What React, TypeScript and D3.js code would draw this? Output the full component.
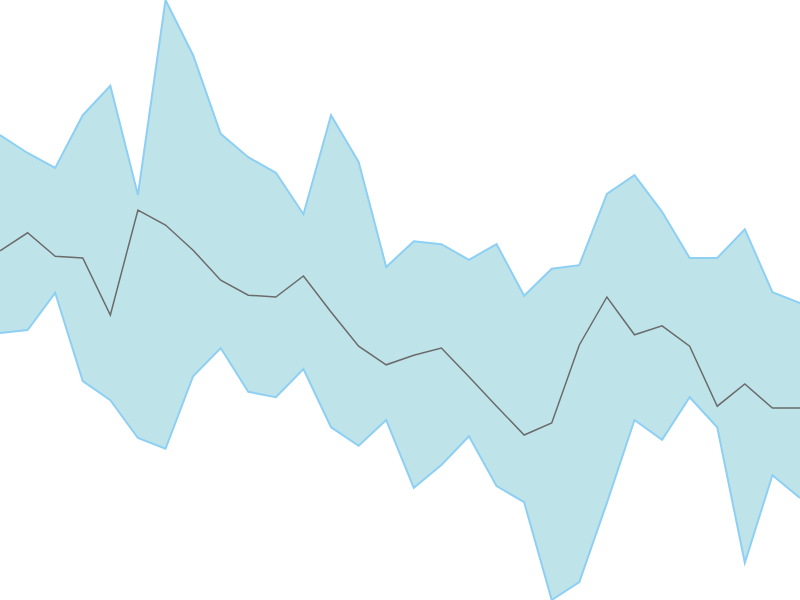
import React from "react";
import * as d3 from "d3";

// Values (0 = bottom, 100 = top)
const upper = [77.5, 74.5, 72, 80.8, 85.7, 67.5, 100, 90.8, 77.7, 73.8, 71.2, 64.3, 80.8, 73, 55.5, 59.8, 59.3, 56.7, 59.3, 50.7, 55.2, 55.8, 67.7, 70.8, 64.7, 57, 57, 61.8, 51.3, 49.5];
const middle = [58.2, 61.2, 57.3, 57, 47.5, 65, 62.5, 58.3, 53.3, 50.8, 50.5, 54, 48, 42.3, 39.2, 40.8, 42, 37.2, 32.3, 27.5, 29.5, 42.5, 50.5, 44.2, 45.7, 42.3, 32.3, 36, 32, 32];
const lower = [44.5, 45, 51.2, 36.5, 33.3, 27, 25.2, 37.3, 42, 34.7, 33.8, 38.5, 28.8, 25.7, 30, 18.7, 22.5, 27.3, 19, 16.3, 0, 3, 16.2, 30, 26.7, 33.8, 28.8, 6.2, 20.8, 17];

const W = 800;
const H = 600;

export default function App() {
  const idx = d3.range(upper.length);
  const x = d3.scaleLinear().domain([0, upper.length - 1]).range([0, W]);
  const y = d3.scaleLinear().domain([0, 100]).range([H, 0]);

  const area = d3
    .area<number>()
    .x((i) => x(i))
    .y0((i) => y(lower[i]))
    .y1((i) => y(upper[i]));
  const lineU = d3.line<number>().x((i) => x(i)).y((i) => y(upper[i]));
  const lineL = d3.line<number>().x((i) => x(i)).y((i) => y(lower[i]));
  const lineM = d3.line<number>().x((i) => x(i)).y((i) => y(middle[i]));

  return (
    <svg
      width={W}
      height={H}
      style={{ position: "fixed", top: 0, left: 0, background: "#fff" }}
    >
      <path d={area(idx) || ""} fill="#bee4e9" stroke="none" />
      <path d={lineU(idx) || ""} fill="none" stroke="#8ecff4" strokeWidth={2} />
      <path d={lineL(idx) || ""} fill="none" stroke="#8ecff4" strokeWidth={2} />
      <path d={lineM(idx) || ""} fill="none" stroke="#6b6b6b" strokeWidth={1.5} />
    </svg>
  );
}
